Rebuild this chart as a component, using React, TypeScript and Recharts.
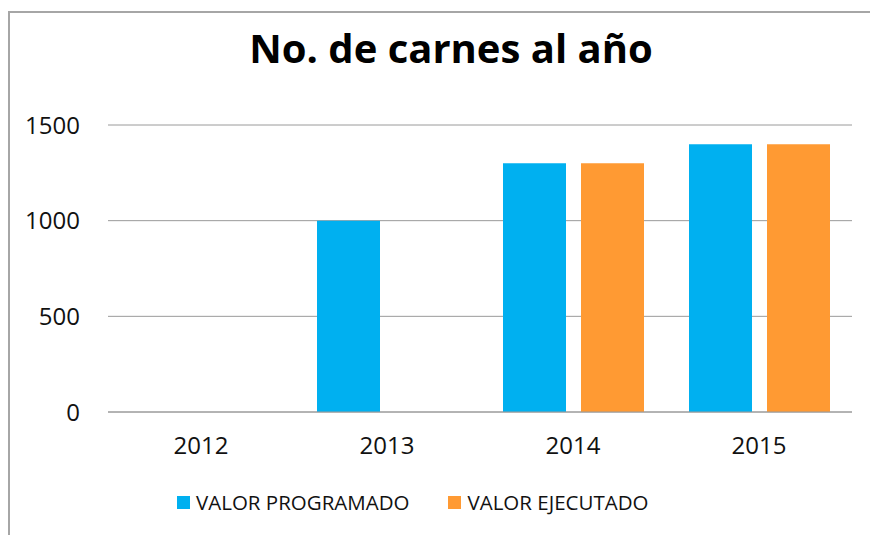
import { BarChart, Bar, XAxis, YAxis, CartesianGrid } from "recharts";

const YEARS = ["2012", "2013", "2014", "2015"];
const PROGRAMADO = [null, 1000, 1300, 1400];
const EJECUTADO = [null, null, 1300, 1400];
const Y_TICKS = [0, 500, 1000, 1500];

const BLUE = "#00B0F0";
const ORANGE = "#FF9A33";
const FONT = "'Open Sans', sans-serif";

const data = YEARS.map((year, i) => ({
  year,
  programado: PROGRAMADO[i],
  ejecutado: EJECUTADO[i],
}));

function LegendBox() {
  const items = [
    { label: "VALOR PROGRAMADO", color: BLUE },
    { label: "VALOR EJECUTADO", color: ORANGE },
  ];
  return (
    <div
      style={{
        position: "absolute",
        left: 177,
        top: 488,
        display: "flex",
        alignItems: "center",
        fontFamily: FONT,
        fontSize: 20.5,
        color: "#111",
      }}
    >
      {items.map((it, i) => (
        <div key={it.label} style={{ display: "flex", alignItems: "center", marginRight: i === 0 ? 39 : 0 }}>
          <span style={{ width: 13, height: 13, background: it.color, display: "inline-block", marginRight: 6 }} />
          <span>{it.label}</span>
        </div>
      ))}
    </div>
  );
}

export default function App() {
  return (
    <div style={{ position: "absolute", left: 0, top: 0, width: 870, height: 535, background: "#fff", overflow: "hidden" }}>
      <div
        style={{
          position: "absolute",
          left: 8,
          top: 11,
          width: 900,
          height: 600,
          borderLeft: "2px solid #a6a6a6",
          borderTop: "2px solid #a6a6a6",
        }}
      />
      <div
        style={{
          position: "absolute",
          left: 0,
          top: 20,
          width: 902,
          textAlign: "center",
          fontFamily: FONT,
          fontWeight: 700,
          fontSize: 40,
          color: "#000",
        }}
      >
        No. de carnes al año
      </div>
      <BarChart
        width={870}
        height={535}
        data={data}
        margin={{ top: 125, right: 18, left: 8, bottom: 0 }}
        barGap={15}
        barSize={63}
        style={{ position: "absolute", left: 0, top: 0 }}
      >
        <CartesianGrid vertical={false} stroke="#9a9a9a" strokeWidth={1} />
        <XAxis
          dataKey="year"
          height={123}
          axisLine={{ stroke: "#9a9a9a" }}
          tickLine={false}
          tickSize={0}
          tickMargin={25}
          tick={{ fontFamily: FONT, fontSize: 24, fill: "#111" }}
        />
        <YAxis
          width={100}
          domain={[0, 1500]}
          ticks={Y_TICKS}
          axisLine={false}
          tickLine={false}
          tickSize={0}
          tickMargin={28}
          tick={{ fontFamily: FONT, fontSize: 24, fill: "#111" }}
        />
        <Bar dataKey="programado" name="VALOR PROGRAMADO" fill={BLUE} isAnimationActive={false} />
        <Bar dataKey="ejecutado" name="VALOR EJECUTADO" fill={ORANGE} isAnimationActive={false} />
      </BarChart>
      <LegendBox />
    </div>
  );
}
